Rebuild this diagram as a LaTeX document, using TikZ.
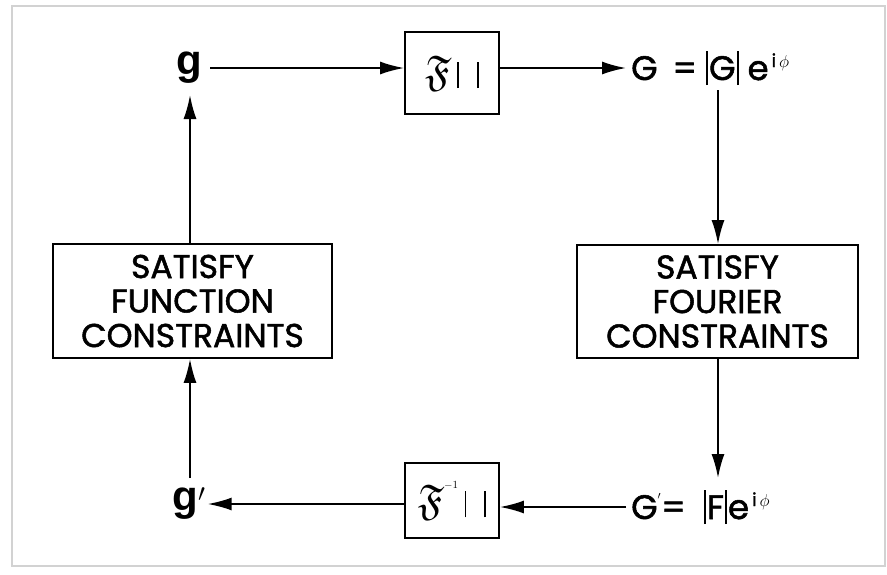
\documentclass[tikz,border=0pt]{standalone}
\usepackage{amssymb}
\usepackage{fontspec}
\setmainfont{Poppins}
\newfontfamily\boxfont[FakeBold=1.6]{Poppins}
\newfontfamily\gfont{Liberation Sans}
\usetikzlibrary{arrows.meta}
\newcommand{\fourierop}{\resizebox*{!}{35pt}{$\mathfrak{F}$}}
\newcommand{\twobars}{\hspace{6pt}\rule[-3pt]{1.8pt}{26pt}\hspace{18pt}\rule[-3pt]{1.8pt}{26pt}}
\newcommand{\tallbar}{\rule[-5pt]{2pt}{34pt}}
\newcommand{\expiphi}{e\raisebox{13pt}{\fontsize{18}{18}\selectfont\,i\,$\phi$}}
\begin{document}
\begin{tikzpicture}[x=1pt,y=-1pt,
  box/.style={draw, line width=1.8pt, inner sep=0pt, align=center,
    font=\boxfont\fontsize{33}{34.5}\selectfont},
  opbox/.style={draw, line width=1.8pt, inner sep=0pt, minimum width=94pt},
  arr/.style={line width=1.8pt, -{Latex[length=24pt,width=13pt]}},
  gtxt/.style={inner sep=0pt, font=\gfont\bfseries\fontsize{42}{42}\selectfont},
  eqtxt/.style={inner sep=0pt, anchor=west, font=\boxfont\fontsize{34}{36}\selectfont},
  frame/.style={draw=gray!35, line width=1.2pt}]
\useasboundingbox (0,0) rectangle (887,574);
\draw[frame] (12,6) rectangle (885,566);

\node[gtxt] (g) at (189,68) {g};
\node[opbox, minimum height=82pt] (F1) at (452,73) {\fourierop\twobars};
\node[eqtxt] (Gt) at (631,68) {G\, = \tallbar\kern1pt G\kern1pt\tallbar\ \expiphi};
\node[box, minimum width=281pt, minimum height=113pt] (R) at (717.5,301.5)
  {SATISFY\\FOURIER\\CONSTRAINTS};
\node[eqtxt] (Gb) at (631,507) {G\raisebox{13pt}{\fontsize{16}{16}\selectfont$'$}= \ \tallbar\kern1pt F\kern1pt\tallbar\kern1pt\expiphi};
\node[opbox, minimum height=75pt] (F2) at (452,500.5)
  {\fourierop\raisebox{20pt}{\fontsize{16}{16}\selectfont$^{-1}$}\twobars};
\node[gtxt] (gp) at (189,504) {g$'$};
\node[box, minimum width=279pt, minimum height=114pt] (L) at (192.5,301)
  {SATISFY\\FUNCTION\\CONSTRAINTS};

\coordinate (gbar) at (718,90);
\coordinate (fbar) at (718,478);

\draw[arr] ([xshift=8pt]g.east) -- (g.east -| F1.west);
\draw[arr] (F1.east |- Gt.west) -- ([xshift=-5pt]Gt.west);
\draw[arr] (gbar) -- (gbar |- R.north);
\draw[arr] (gbar |- R.south) -- (fbar);
\draw[arr] ([xshift=-5pt]Gb.west) -- (Gb.west -| F2.east);
\draw[arr] (F2.west |- gp.east) -- ([xshift=2pt]gp.east);
\draw[arr] (190,478) -- (190,0 |- L.south);
\draw[arr] (190,0 |- L.north) -- (190,95);
\end{tikzpicture}
\end{document}
